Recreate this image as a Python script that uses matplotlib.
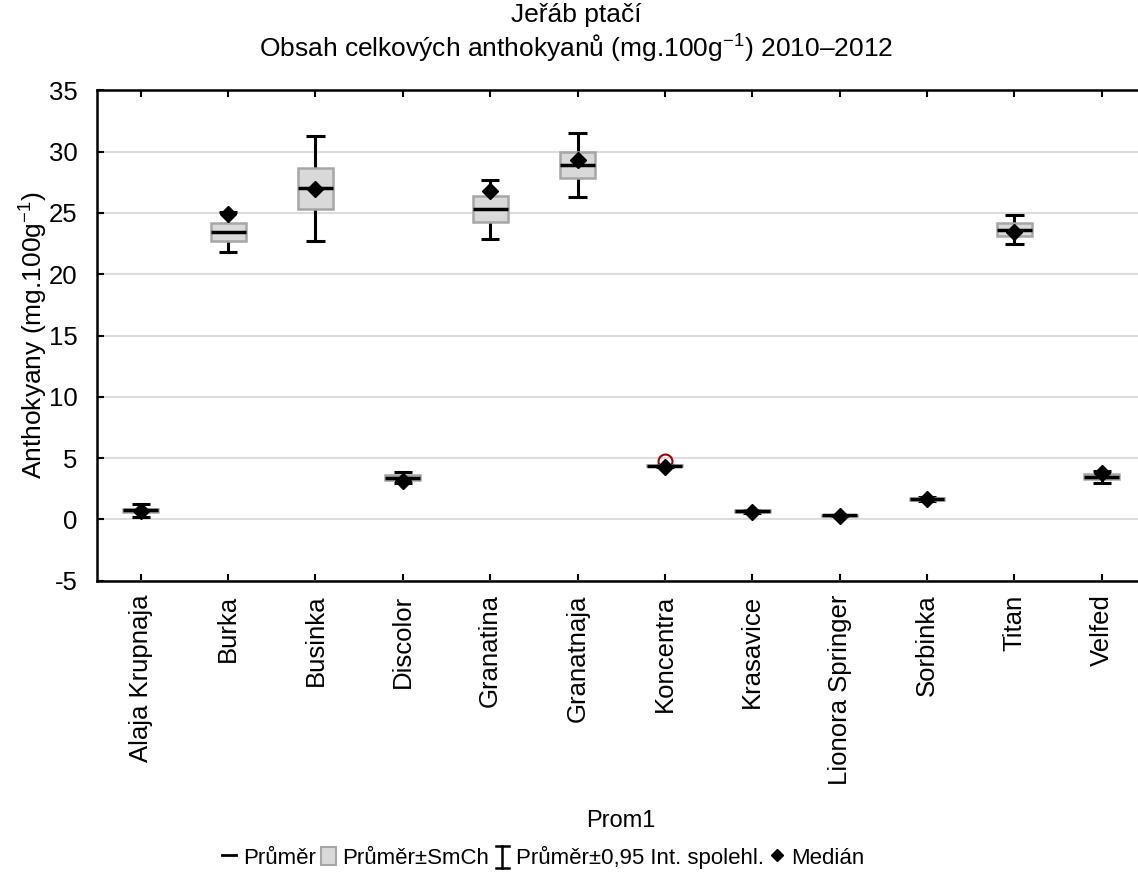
import matplotlib
matplotlib.use("Agg")
import matplotlib.pyplot as plt
from matplotlib.patches import Rectangle, Patch
from matplotlib.lines import Line2D
from matplotlib.legend_handler import HandlerBase
import numpy as np

plt.rcParams['font.family'] = ['Liberation Sans', 'DejaVu Sans']
plt.rcParams['mathtext.fontset'] = 'custom'
plt.rcParams['mathtext.rm'] = 'Liberation Sans'
plt.rcParams['mathtext.it'] = 'Liberation Sans'
plt.rcParams['mathtext.bf'] = 'Liberation Sans:bold'

categories = ["Alaja Krupnaja", "Burka", "Businka", "Discolor", "Granatina",
              "Granatnaja", "Koncentra", "Krasavice", "Lionora Springer",
              "Sorbinka", "Titan", "Velfed"]
means = [0.72, 23.45, 27.0, 3.40, 25.30, 28.92, 4.36, 0.66, 0.33, 1.64, 23.65, 3.46]
se = [0.15, 0.71, 1.67, 0.20, 1.06, 1.05, 0.05, 0.08, 0.04, 0.08, 0.52, 0.20]
ci = [0.50, 1.60, 4.25, 0.43, 2.42, 2.64, 0.10, 0.12, 0.05, 0.15, 1.20, 0.49]
medians = [0.65, 24.94, 26.93, 3.14, 26.82, 29.30, 4.28, 0.63, 0.30, 1.62, 23.41, 3.74]
outlier_cat = ["Koncentra"]
outlier_val = [4.75]

yticks = [-5, 0, 5, 10, 15, 20, 25, 30, 35]

W, H = 1138, 877
fig = plt.figure(figsize=(W / 100, H / 100), dpi=100)
left, right, top, bottom = 97, 1145.4, 90.5, 580.5
ax = fig.add_axes([left / W, 1 - bottom / H, (right - left) / W, (bottom - top) / H])

FS_TICK = 18.5
FS_LAB = 19
FS_TITLE = 19
FS_LEG = 16
x = np.arange(len(categories))
box_w = 0.40
cap_w = 0.21
box_face = "#d9d9d9"
box_edge = "#a6a6a6"

for i in range(len(categories)):
    m = means[i]
    ax.plot([x[i], x[i]], [m - ci[i], m + ci[i]], color="black", lw=2.2, zorder=3, solid_capstyle="butt")
    for yv in (m - ci[i], m + ci[i]):
        ax.plot([x[i] - cap_w / 2, x[i] + cap_w / 2], [yv, yv], color="black", lw=2.2, zorder=3, solid_capstyle="butt")
    ax.add_patch(Rectangle((x[i] - box_w / 2, m - se[i]), box_w, 2 * se[i],
                           facecolor=box_face, edgecolor=box_edge, lw=1.8, zorder=4))
    ax.plot([x[i] - box_w / 2, x[i] + box_w / 2], [m, m], color="black", lw=2.5, zorder=5, solid_capstyle="butt")

ax.plot(x, medians, linestyle="none", marker="D", markersize=8, color="black", zorder=6)
ox = [categories.index(c) for c in outlier_cat]
ax.plot(ox, outlier_val, linestyle="none", marker="o", markersize=10, markerfacecolor="none",
        markeredgecolor="#a00000", markeredgewidth=1.5, zorder=2)

ax.set_xlim(-0.5, len(categories) - 0.5)
ax.set_ylim(-5, 35)
ax.set_yticks(yticks)
ax.set_yticklabels([str(v) for v in yticks], fontsize=FS_TICK)
ax.set_xticks(x)
ax.set_xticklabels(categories, rotation=90, fontsize=FS_TICK)
ax.tick_params(axis="both", direction="in", length=5, width=1.5, top=True, right=False)
ax.tick_params(axis="y", pad=14)
ax.tick_params(axis="x", pad=10)
ax.grid(axis="y", color="#dcdcdc", lw=1.5, zorder=0)
ax.set_axisbelow(True)
for s in ["left", "bottom", "top"]:
    ax.spines[s].set_linewidth(1.8)
ax.spines["right"].set_visible(False)

ax.set_ylabel("Anthokyany (mg.100g$^{\\mathrm{-1}}$)", fontsize=FS_LAB, labelpad=-1)
ax.set_xlabel("Prom1", fontsize=17, labelpad=18.5)

fig.text(0.506, 1 - 15 / H, "Jeřáb ptačí", ha="center", va="center", fontsize=FS_TITLE)
fig.text(0.506, 1 - 49 / H, "Obsah celkových anthokyanů (mg.100g$^{\\mathrm{-1}}$) 2010–2012",
         ha="center", va="center", fontsize=FS_TITLE)


class IBeamHandler(HandlerBase):
    def create_artists(self, legend, orig_handle, xdescent, ydescent, width, height, fontsize, trans):
        cx = width / 2 - xdescent
        y0 = -ydescent - height * 0.15
        y1 = -ydescent + height * 1.05
        cw = width * 0.45
        l1 = Line2D([cx, cx], [y0, y1], color="black", lw=1.8, transform=trans)
        l2 = Line2D([cx - cw, cx + cw], [y0, y0], color="black", lw=1.8, transform=trans)
        l3 = Line2D([cx - cw, cx + cw], [y1, y1], color="black", lw=1.8, transform=trans)
        return [l1, l2, l3]


class IBeam:
    pass


h_mean = Line2D([], [], color="black", lw=2)
h_box = Patch(facecolor=box_face, edgecolor=box_edge, lw=1.5)
h_ci = IBeam()
h_med = Line2D([], [], color="black", linestyle="none", marker="D", markersize=6)
fig.legend([h_mean, h_box, h_ci, h_med],
           ["Průměr", "Průměr±SmCh", "Průměr±0,95 Int. spolehl.", "Medián"],
           handler_map={IBeam: IBeamHandler()},
           loc="center", bbox_to_anchor=(543 / W, 1 - 857 / H), ncol=4, frameon=False,
           fontsize=FS_LEG, handlelength=0.65, handletextpad=0.3, columnspacing=0.25,
           handleheight=0.9)

fig.savefig("out.png", dpi=100)
